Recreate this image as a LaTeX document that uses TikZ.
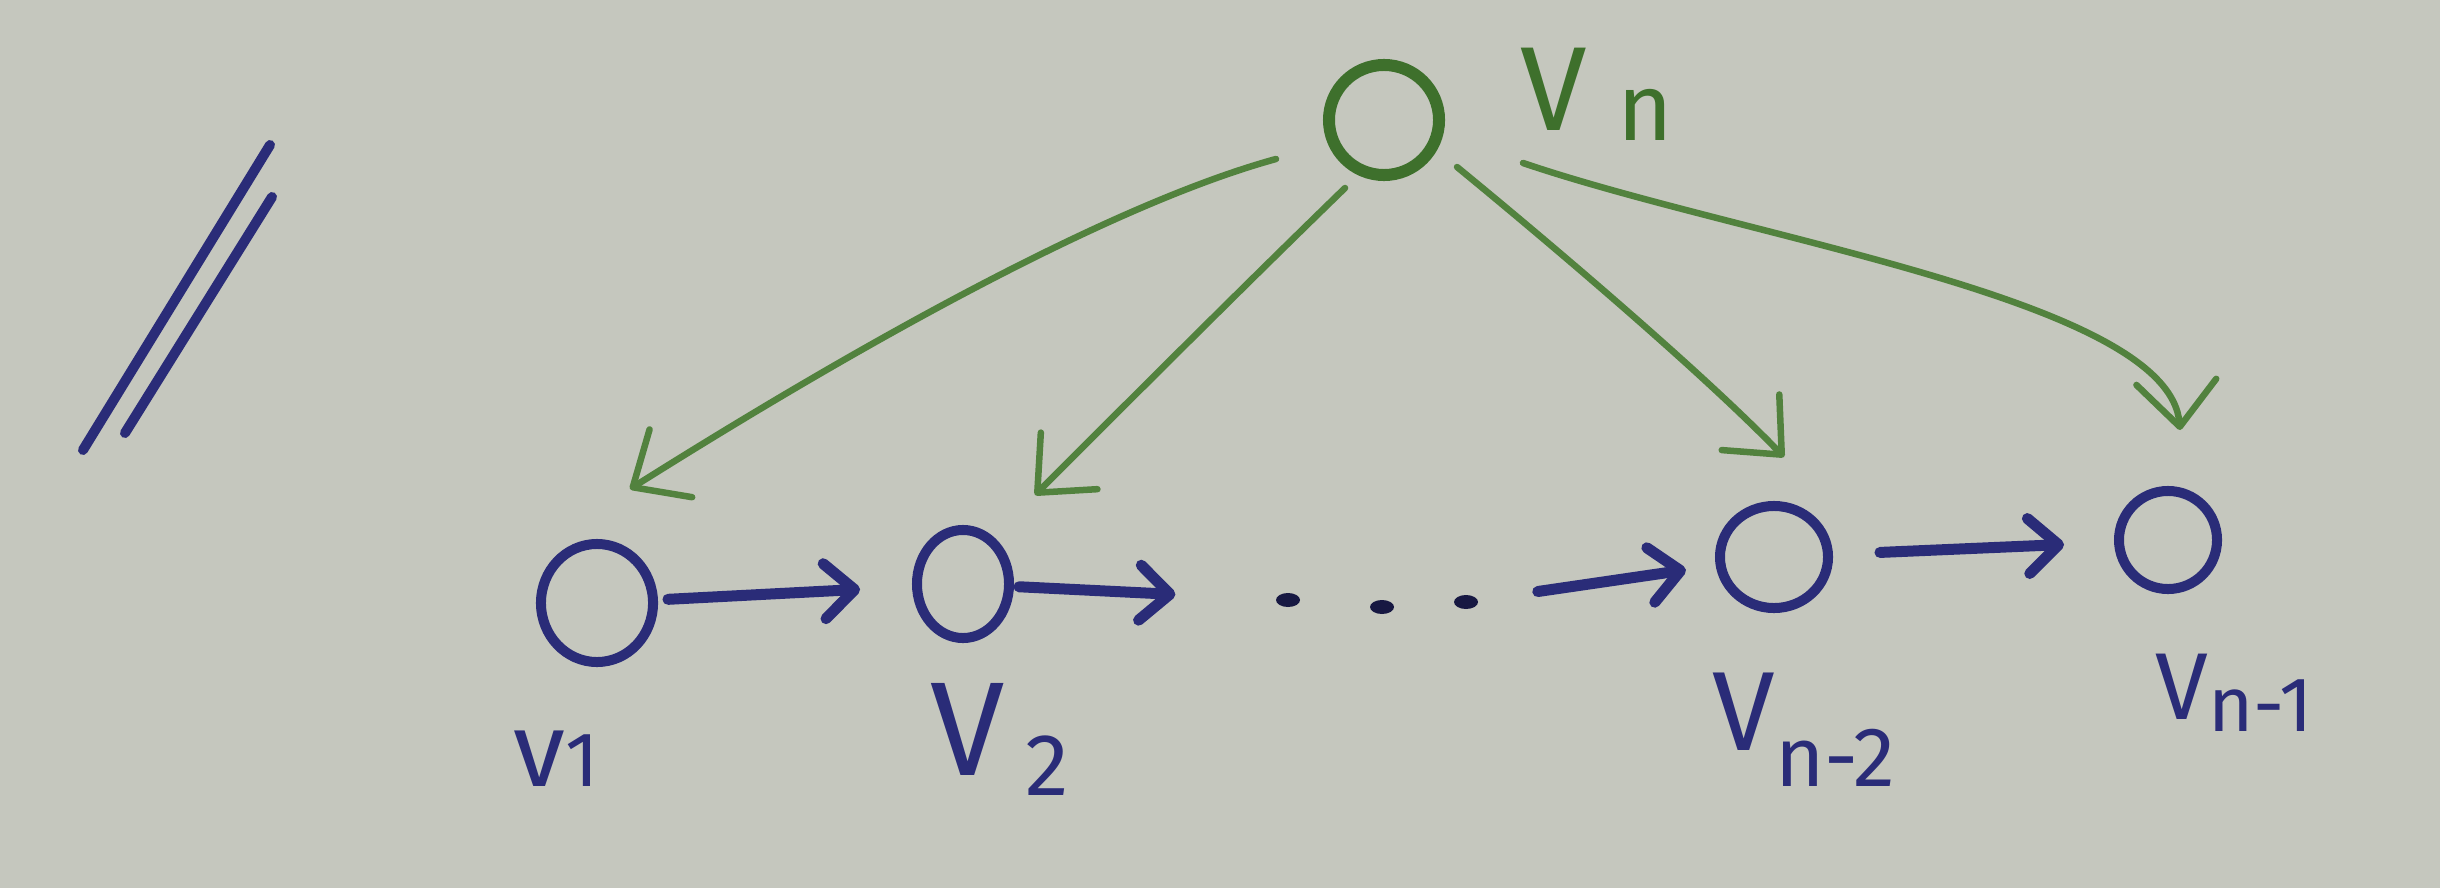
\documentclass[tikz,border=0pt]{standalone}
\usepackage{fontspec}
\setmainfont{Fira Sans}
\usetikzlibrary{arrows.meta,shapes.geometric}
\definecolor{paper}{RGB}{197,199,190}
\definecolor{ink}{RGB}{42,44,120}
\definecolor{leaf}{RGB}{82,130,62}
\definecolor{leafdark}{RGB}{62,112,44}
\begin{document}
\begin{tikzpicture}[x=0.01cm,y=-0.01cm,
  vtx/.style={draw=ink, line width=0.1cm, ellipse, inner sep=0pt},
  topvtx/.style={draw=leafdark, line width=0.12cm, ellipse, inner sep=0pt},
  barrow/.style={draw=ink, line width=0.11cm, line cap=round,
    -{Straight Barb[length=0.3cm,width=0.55cm,round]}},
  garrow/.style={draw=leaf, line width=0.065cm, line cap=round,
    -{Straight Barb[length=0.45cm,width=0.8cm,round]}},
  dotmark/.style={fill=ink!55!black, ellipse, inner sep=0pt,
    minimum width=0.24cm, minimum height=0.14cm},
  lab/.style={text=ink, inner sep=0pt, anchor=base west},
]
% paper
\fill[paper] (0,0) rectangle (2440,888);
\useasboundingbox (0,0) rectangle (2440,888);

% double stroke on the left
\draw[ink, line width=0.1cm, line cap=round] (270,145) -- (83,450);
\draw[ink, line width=0.1cm, line cap=round] (272,197) -- (125,433);

% vertices
\node[topvtx, minimum width=1.1cm, minimum height=1.1cm] (vn) at (1384,120) {};
\node[vtx, minimum width=1.12cm, minimum height=1.18cm] (v1) at (597,603) {};
\node[vtx, minimum width=0.92cm, minimum height=1.08cm] (v2) at (963,584) {};
\node[vtx, minimum width=1.08cm, minimum height=1.02cm] (vn2) at (1774,557) {};
\node[vtx, minimum width=0.98cm, minimum height=0.98cm] (vn1) at (2168,540) {};

% ellipsis dots
\node[dotmark] (d1) at (1288,600) {};
\node[dotmark] (d2) at (1382,607) {};
\node[dotmark] (d3) at (1466,602) {};

% labels
\node[lab] (l1) at (513,786) {\fontsize{30}{30}\selectfont v\fontsize{22}{22}\selectfont 1};
\node[lab] (l2) at (930,775) {\fontsize{38}{38}\selectfont V\hspace{0.2cm}\raisebox{-0.2cm}{\fontsize{25}{25}\selectfont 2}};
\node[lab] (l3) at (1712,750) {\fontsize{32}{32}\selectfont V\raisebox{-0.36cm}{\fontsize{24}{24}\selectfont n-2}};
\node[lab] (l4) at (2155,719) {\fontsize{27}{27}\selectfont V\raisebox{-0.12cm}{\fontsize{22}{22}\selectfont n-1}};
\node[lab, text=leafdark] (ln) at (1520,130) {\fontsize{34}{34}\selectfont V\hspace{0.3cm}\raisebox{-0.1cm}{\fontsize{27}{27}\selectfont n}};

% chain along the bottom
\draw[barrow, shorten <=0.1cm, shorten >=0.52cm] (v1) -- (v2);
\draw[barrow, shorten <=0.05cm, shorten >=1.0cm] (v2) -- (d1);
\draw[barrow, shorten <=0.6cm, shorten >=0.3cm] (d3) -- (vn2);
\draw[barrow, shorten <=0.47cm, shorten >=0.5cm] (vn2) -- (vn1);

% edges from the top vertex
\draw[garrow] ([shift={(-108,39)}]vn.center) .. controls (1076,214) and (770,401) .. ([shift={(33,-114)}]v1.center);
\draw[garrow] ([shift={(-39,68)}]vn.center) .. controls (1240,290) and (1135,395) .. ([shift={(72,-89)}]v2.center);
\draw[garrow] ([shift={(73,47)}]vn.center) .. controls (1540,235) and (1700,370) .. ([shift={(10,-100)}]vn2.center);
\draw[garrow] ([shift={(139,43)}]vn.center) .. controls (1750,240) and (2170,300) .. ([shift={(12,-110)}]vn1.center);
\end{tikzpicture}
\end{document}
